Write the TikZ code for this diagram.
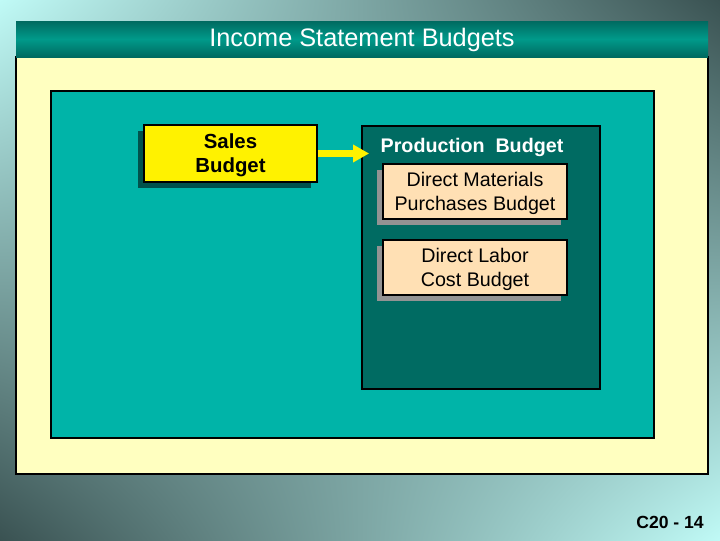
\documentclass[tikz,border=0pt]{standalone}
\usepackage{fontspec}
\setmainfont{Liberation Sans}
\usepackage{tikz}
\usetikzlibrary{calc, positioning, arrows.meta, shadows, shadings}

\definecolor{panelyellow}{HTML}{FFFFC0}
\definecolor{panelteal}{HTML}{00B4A8}
\definecolor{prodteal}{HTML}{006B62}
\definecolor{barteal}{HTML}{009A8A}
\definecolor{bardark}{HTML}{006A60}
\definecolor{peach}{HTML}{FFE0B4}
\definecolor{salesshadow}{HTML}{00524C}
\definecolor{bglight}{HTML}{C0FAF6}
\definecolor{bgdark}{HTML}{3A5252}

\begin{document}
\begin{tikzpicture}[x=0.025cm, y=-0.025cm, >=Triangle, thick,
		salesbox/.style={draw, line width=1.2pt, fill=yellow, minimum width=4.325cm, minimum height=1.425cm, text depth=0pt, align=center, font=\fontsize{14.5}{17}\selectfont\bfseries, general shadow={fill=salesshadow, shadow xshift=-0.15cm, shadow yshift=-0.15cm}},
		subbox/.style={draw, line width=1.2pt, fill=peach, minimum width=4.6cm, minimum height=1.375cm, text depth=0pt, align=center, font=\fontsize{14}{17}\selectfont, general shadow={fill=gray!85, shadow xshift=-0.15cm, shadow yshift=-0.15cm}}]
		\useasboundingbox (0,0) rectangle (720,540);

		% background and frames
		\shade[upper left=bglight, upper right=bgdark, lower left=bgdark, lower right=bglight] (0,0) rectangle (720,540);
		\draw[line width=1.2pt, fill=panelyellow] (16,57) rectangle (708,474);
		\shade[top color=bardark, bottom color=bardark, middle color=barteal] (16,21) rectangle (708,57);
		\node[text=white, font=\fontsize{18}{21}\selectfont] (title) at (362,40) {Income Statement Budgets};
		\draw[line width=1.2pt, fill=panelteal] (51,91) rectangle (654,438);

		% budgets
		\node[salesbox] (Sales) at (230.5,153.5) {Sales\\Budget};
		\node[draw, line width=1.2pt, fill=prodteal, minimum width=5.95cm, minimum height=6.575cm] (Prod) at (481,257.5) {};
		\node[text=white, font=\fontsize{14}{17}\selectfont\bfseries] (ProdTitle) at (472,147) {Production\ \ Budget};
		\node[subbox] (DM) at (475,191.5) {Direct Materials\\Purchases Budget};
		\node[subbox] (DL) at (475,267.5) {Direct Labor\\Cost Budget};

		\draw[->, yellow, line width=4.6pt, arrows={-Triangle[length=0.4cm, width=0.42cm]}, shorten >=-0.2cm]
		(Sales.east) -- (Sales.east -| Prod.west);

		\node[font=\fontsize{12.5}{15}\selectfont\bfseries, anchor=east] (page) at (709,522) {C20 - 14};

	\end{tikzpicture}
\end{document}
